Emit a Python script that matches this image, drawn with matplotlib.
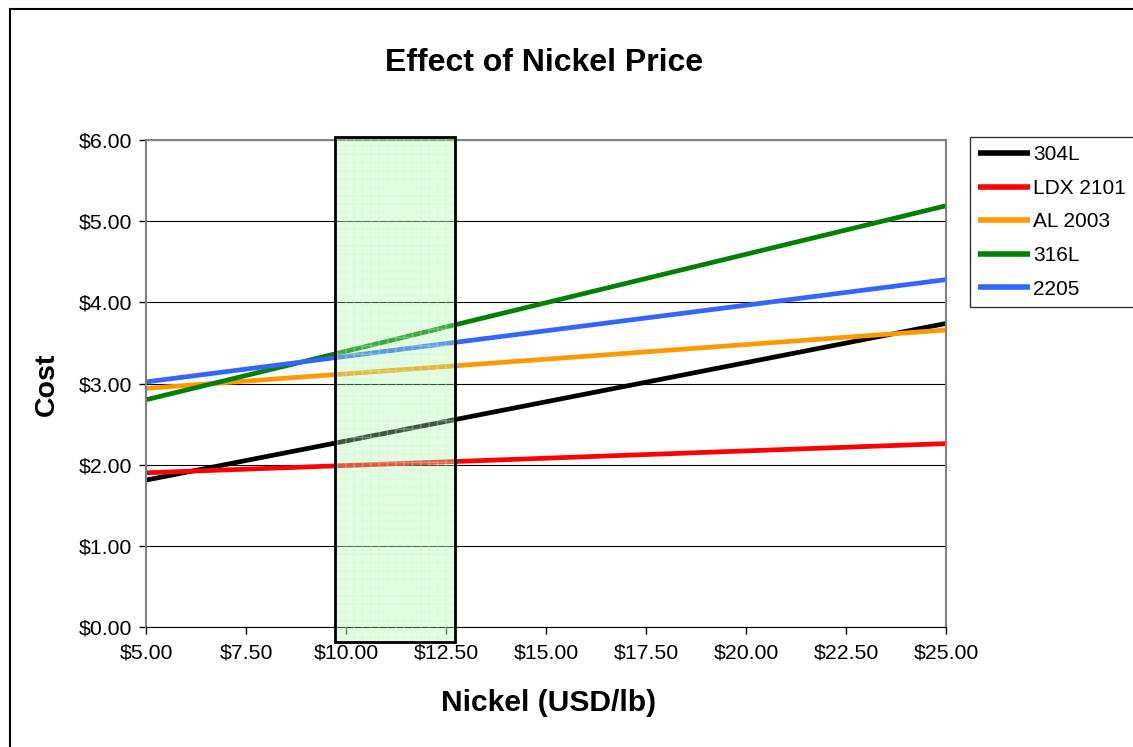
import matplotlib.pyplot as plt
import matplotlib.transforms as mtransforms
from matplotlib.patches import Rectangle
from matplotlib.ticker import FuncFormatter

plt.rcParams['font.family'] = ['Liberation Sans', 'DejaVu Sans']

# Cost vs nickel price, end points of each grade line
nickel = [5.0, 25.0]
grades = ['304L', 'LDX 2101', 'AL 2003', '316L', '2205']
costs = {
    '304L': [1.81, 3.74],
    'LDX 2101': [1.90, 2.26],
    'AL 2003': [2.94, 3.66],
    '316L': [2.80, 5.19],
    '2205': [3.02, 4.28],
}
colors = {
    '304L': '#000000',
    'LDX 2101': '#ff0000',
    'AL 2003': '#ff9900',
    '316L': '#008000',
    '2205': '#3366ff',
}
# current nickel price window
band = (9.72, 12.72)

fig = plt.figure(figsize=(11.33, 7.47), dpi=100)
ax = fig.add_axes([0.1289, 0.1606, 0.7061, 0.652])

for g in grades:
    ax.plot(nickel, costs[g], color=colors[g], lw=3.4, label=g, solid_capstyle='butt')

ax.set_xlim(5, 25)
ax.set_ylim(0, 6)
ax.set_xticks([5, 7.5, 10, 12.5, 15, 17.5, 20, 22.5, 25])
ax.set_yticks(range(0, 7))
money = FuncFormatter(lambda v, p: f'${v:.2f}')
ax.xaxis.set_major_formatter(money)
ax.yaxis.set_major_formatter(money)
ax.tick_params(axis='both', labelsize=15.3, direction='out', length=5, width=1)
ax.tick_params(axis='y', pad=5)
ax.tick_params(axis='x', pad=7)
ax.grid(axis='y', color='#000000', lw=0.8)
ax.set_axisbelow(True)
for side in ['top', 'right', 'left']:
    ax.spines[side].set_color('#808080')
    ax.spines[side].set_linewidth(1.5)
ax.spines['bottom'].set_color('#000000')

# shaded price band, slightly overhanging the plot area
trans = mtransforms.blended_transform_factory(ax.transData, ax.transAxes)
shade = Rectangle((band[0], -0.031), band[1] - band[0], 1.037, transform=trans,
                  facecolor='#b4f8b4', edgecolor='#c8ffc8', hatch='++', lw=0,
                  alpha=0.35, clip_on=False, zorder=5)
ax.add_patch(shade)
frame = Rectangle((band[0], -0.031), band[1] - band[0], 1.037, transform=trans,
                  fill=False, edgecolor='black', lw=2, clip_on=False, zorder=6)
ax.add_patch(frame)

fig.text(0.48, 0.915, 'Effect of Nickel Price', ha='center', va='center',
         fontsize=23, fontweight='bold')
fig.text(0.484, 0.059, 'Nickel (USD/lb)', ha='center', va='center',
         fontsize=21.6, fontweight='bold')
fig.text(0.0415, 0.485, 'Cost', ha='center', va='center', rotation=90,
         fontsize=20.5, fontweight='bold')

leg = fig.legend(loc='upper left', bbox_to_anchor=(0.856, 0.8166), fontsize=15,
                 frameon=True, fancybox=False, edgecolor='black', borderaxespad=0,
                 handlelength=2.5, handletextpad=0.15, labelspacing=0.7,
                 borderpad=0.4)
leg.get_frame().set_linewidth(1)
for line in leg.get_lines():
    line.set_linewidth(4)

# outer chart frame
fig.add_artist(plt.Line2D([10 / 1133, 10 / 1133], [0, 1 - 9 / 747],
                          transform=fig.transFigure, color='black', lw=1.5))
fig.add_artist(plt.Line2D([10 / 1133, 1], [1 - 9 / 747, 1 - 9 / 747],
                          transform=fig.transFigure, color='black', lw=1.5))

fig.savefig('out.png', dpi=100)
